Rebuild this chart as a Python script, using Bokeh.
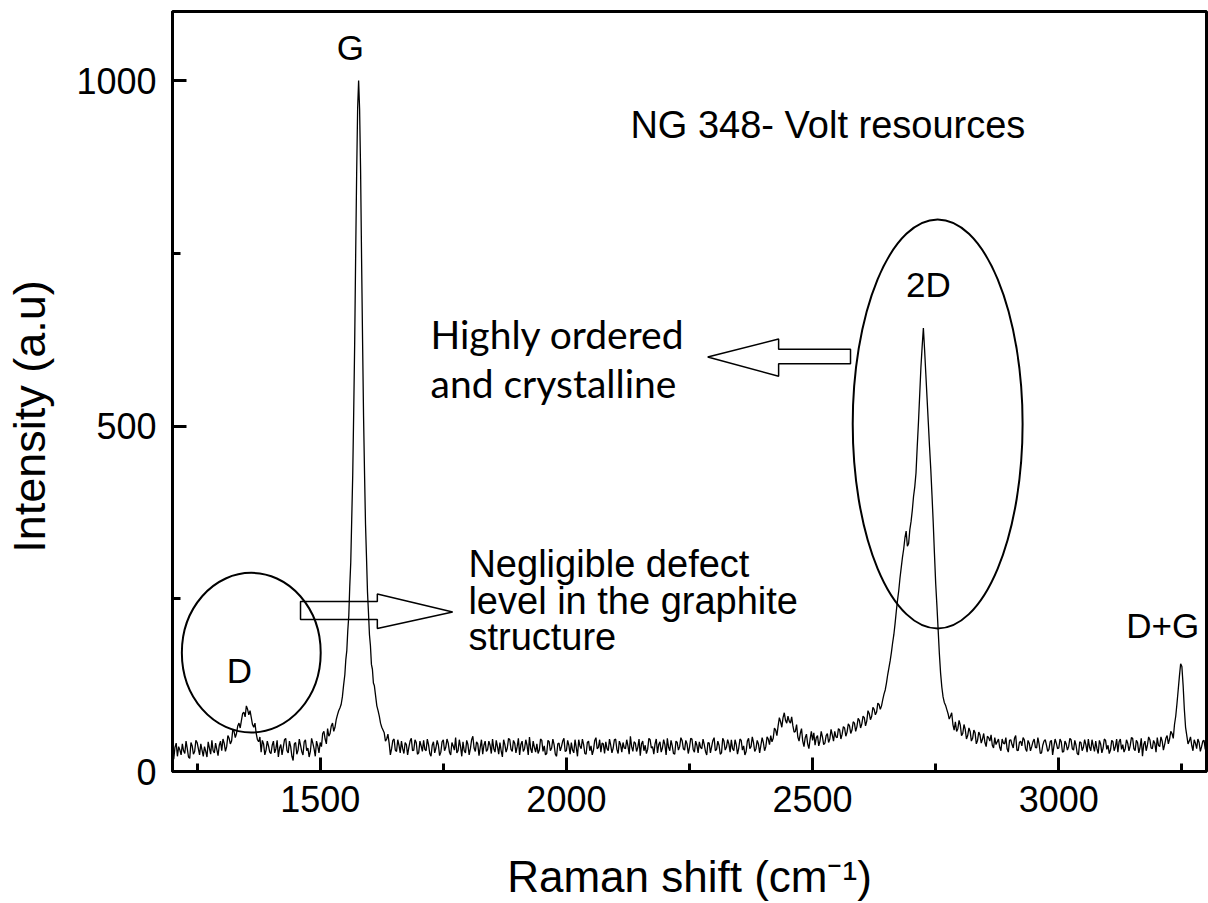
from bokeh.plotting import figure
from bokeh.models import Label, FixedTicker
from bokeh.embed import file_html
from bokeh.resources import INLINE

# ---- data ----
shift_a = [1200 + 5 * k for k in range(70)]
intensity_a = [
    28, 35, 22, 31, 40, 26, 33, 19, 37, 29, 42, 24, 31, 36, 21, 34, 45, 27, 32, 38,
    30, 41, 36, 48, 44, 58, 55, 70, 74, 86, 95, 82, 78, 64, 55, 43, 28, 40, 31, 37,
    26, 44, 33, 21, 39, 35, 48, 27, 36, 16, 42, 31, 38, 24, 46, 34, 29, 41, 22, 37,
    42, 55, 47, 62, 55, 70, 64, 82, 92, 108,
]
shift_a_mid = [1202.5 + 5 * k for k in range(70)]
intensity_a_mid = [
    18, 41, 36, 24, 30, 44, 21, 42, 25, 45, 33, 40, 22, 29, 43, 25, 30, 41, 23, 44,
    47, 29, 52, 40, 61, 49, 66, 63, 84, 79, 90, 88, 68, 70, 46, 50, 45, 24, 44, 28,
    38, 27, 45, 34, 24, 46, 30, 44, 22, 40, 25, 47, 29, 43, 30, 21, 48, 33, 44, 27,
    36, 58, 40, 51, 66, 58, 75, 88, 97, 125,
]
shift_b = [1550 + 2 * k for k in range(31)]
intensity_b = [
    140, 162, 175, 204, 225, 268, 302, 365, 428, 520, 620, 748, 865, 960, 1000,
    958, 870, 742, 625, 515, 432, 358, 310, 260, 230, 198, 182, 155, 148, 128, 124,
]
shift_c = [1615 + 5 * k for k in range(338)]
intensity_c = [
    95, 80, 64, 56, 47,
    41, 33, 47, 29, 38, 44, 26, 39, 35, 48,
    31, 42, 27, 37, 45, 30, 39, 22, 43, 34,
    38, 28, 46, 35, 41, 24, 37, 49, 30, 36,
    43, 27, 39, 33, 51, 29, 40, 35, 25, 44,
    32, 38, 47, 28, 36, 42, 21, 39, 34, 46,
    29, 41, 36, 24, 44, 33, 38, 50, 27, 35,
    40, 31, 45, 37, 26, 43, 34, 39, 22, 41,
    36, 48, 30, 38, 42, 27, 35, 46, 33, 39,
    25, 44, 37, 31, 49, 35, 28, 40, 43, 30,
    38, 34, 47, 26, 39, 42, 33, 37, 51, 29,
    41, 35, 23, 44, 38, 32, 46, 36, 40, 27,
    43, 34, 39, 48, 30, 37, 25, 42, 36, 45,
    31, 40, 35, 47, 28, 38, 43, 33, 39, 24,
    41, 36, 49, 32, 38, 27, 44, 35, 40, 46,
    30, 39, 34, 45, 37, 29, 48, 36, 42, 33,
    40, 38,
    42, 36, 47, 52, 48, 60, 66, 72, 78, 74, 80, 70, 66, 58, 50, 55, 44, 49, 40, 47,
    45, 38, 52, 44, 50, 41, 55, 47, 53, 58, 49, 60, 54, 63, 57, 66, 60, 70, 65, 74,
    69, 78, 73, 84, 80, 90, 86, 97,
    95, 112, 128, 150, 172, 198, 232, 262, 295, 322, 348, 330, 362, 398, 432, 505,
    585, 642, 575, 505, 438, 360, 272, 205, 142, 108, 96, 84, 80, 68, 72,
    62, 67, 55, 61, 52, 58, 48, 56, 45, 53,
    47, 42, 51, 44, 38, 49, 43, 35, 47, 40,
    33, 45, 39, 48, 31, 42, 37, 46, 29, 41,
    36, 47, 34, 40, 27, 44, 38, 32, 45, 36,
    41,
    34, 43, 29, 40, 36, 46, 31, 38, 24, 42,
    35, 39, 47, 30, 37, 44, 26, 40, 34, 45,
    38, 31, 43, 36, 28, 47, 39, 33, 41, 37,
    48, 30, 42, 35, 22, 44, 38, 46, 33, 41,
    49, 36, 44, 39, 52, 47,
    55, 68, 98, 138, 152, 90, 52, 44, 38, 46, 33, 42, 36, 45, 39,
]
shift_c_mid = [1617.5 + 5 * k for k in range(337)]
intensity_c_mid = [
    88, 70, 60, 44, 54,
    24, 45, 31, 46, 27, 33, 42, 24, 44, 30,
    46, 25, 44, 29, 32, 47, 26, 38, 27, 45,
    23, 43, 30, 47, 28, 42, 31, 27, 46, 22,
    30, 45, 24, 46, 34, 43, 23, 46, 38, 29,
    44, 26, 33, 45, 25, 30, 46, 28, 48, 32,
    45, 27, 48, 39, 29, 46, 24, 33, 44, 28,
    26, 47, 29, 24, 45, 30, 47, 25, 40, 30,
    44, 29, 45, 25, 31, 46, 22, 37, 47, 26,
    42, 30, 24, 45, 33, 46, 41, 26, 33, 47,
    27, 46, 32, 44, 28, 34, 46, 25, 36, 43,
    29, 47, 40, 30, 26, 48, 34, 25, 47, 39,
    28, 46, 24, 35, 45, 26, 44, 31, 49, 33,
    45, 26, 48, 32, 44, 27, 35, 47, 29, 42,
    27, 45, 30, 44, 25, 48, 31, 46, 28, 33,
    46, 25, 47, 31, 24, 44, 33, 50, 29, 45,
    27, 49,
    30, 50, 39, 43, 63, 52, 78, 64, 85, 70, 73, 79, 57, 68, 44, 62, 36, 54, 33, 58,
    56, 49, 37, 58, 39, 52, 42, 61, 44, 50, 62, 47, 65, 51, 69, 55, 72, 58, 77, 63,
    80, 66, 88, 75, 93, 82, 99, 90,
    104, 118, 140, 160, 186, 214, 248, 280, 310, 338, 326, 350, 378, 412, 470, 545,
    615, 610, 540, 470, 400, 315, 240, 170, 122, 100, 90, 76, 85, 60, 58,
    74, 52, 68, 47, 63, 44, 60, 40, 57, 41,
    55, 36, 49, 53, 34, 39, 47, 30, 41, 49,
    28, 46, 34, 52, 30, 44, 49, 33, 45, 30,
    43, 35, 49, 26, 38, 46, 29, 43, 24, 47,
    33,
    47, 28, 44, 31, 48, 33, 45, 26, 43, 30,
    46, 28, 35, 46, 29, 33, 45, 27, 47, 32,
    26, 45, 30, 47, 43, 32, 28, 46, 30, 49,
    33, 45, 27, 48, 39, 30, 50, 34, 45, 28,
    38, 50, 31, 48, 40, 58,
    48, 80, 118, 156, 125, 64, 40, 50, 30, 41, 47, 29, 44, 32,
]

assert len(shift_a) == len(intensity_a) and len(shift_a_mid) == len(intensity_a_mid)
assert len(shift_b) == len(intensity_b)
assert len(shift_c) == len(intensity_c) and len(shift_c_mid) == len(intensity_c_mid)

points = sorted(zip(shift_a + shift_a_mid + shift_b + shift_c + shift_c_mid,
                    intensity_a + intensity_a_mid + intensity_b + intensity_c + intensity_c_mid))
raman_shift = [pt[0] for pt in points]
intensity = [pt[1] for pt in points]

x_major_ticks = [1500, 2000, 2500, 3000]
x_minor_ticks = [1250, 1750, 2250, 2750, 3250]
y_major_ticks = [0, 500, 1000]
y_minor_ticks = [250, 750]

FONT = "Liberation Sans"

p = figure(width=1208, height=903, x_range=(1200, 3300), y_range=(0, 1100),
           output_backend="svg", toolbar_location=None,
           min_border_left=172, min_border_right=2, min_border_top=11, min_border_bottom=132)
p.background_fill_color = "white"
p.border_fill_color = "white"
p.xgrid.visible = False
p.ygrid.visible = False
p.outline_line_color = "black"
p.outline_line_width = 3
p.outline_line_alpha = 1.0

p.xaxis.ticker = FixedTicker(ticks=x_major_ticks, minor_ticks=x_minor_ticks)
p.yaxis.ticker = FixedTicker(ticks=y_major_ticks, minor_ticks=y_minor_ticks)
for ax in (p.xaxis[0], p.yaxis[0]):
    ax.axis_line_width = 3
    ax.axis_line_color = "black"
    ax.major_tick_in = 14
    ax.major_tick_out = 0
    ax.minor_tick_in = 8
    ax.minor_tick_out = 0
    ax.major_tick_line_width = 3
    ax.minor_tick_line_width = 3
    ax.major_tick_line_color = "black"
    ax.minor_tick_line_color = "black"
    ax.major_label_text_font = FONT
    ax.major_label_text_font_size = "36px"
    ax.major_label_text_color = "black"
    ax.axis_label_text_font = FONT
    ax.axis_label_text_font_style = "normal"
    ax.axis_label_text_color = "black"

p.xaxis.axis_label = "Raman shift (cm\u207b\u00b9)"
p.xaxis.axis_label_text_font_size = "44px"
p.xaxis.major_label_standoff = 14
p.xaxis.axis_label_standoff = 37
# trailing no-break spaces nudge the vertical title toward the lower part of the axis
p.yaxis.axis_label = "Intensity (a.u)\u00a0\u00a0\u00a0\u00a0"
p.yaxis.axis_label_text_font_size = "45px"
p.yaxis.major_label_standoff = 16
p.yaxis.axis_label_standoff = 18

# spectrum
p.line(raman_shift, intensity, line_color="black", line_width=1.3)

# ellipses around D and 2D bands
p.ellipse(x=[1360], y=[172], width=[282], height=[231],
          fill_color=None, line_color="black", line_width=2)
p.ellipse(x=[2754], y=[503], width=[345], height=[592],
          fill_color=None, line_color="black", line_width=2)

# block arrows (outline only)
p.patch([1460, 1616, 1616, 1769, 1616, 1616, 1460],
        [246, 246, 257, 231, 207, 220, 220],
        fill_color=None, line_color="black", line_width=1.5)
p.patch([2577, 2431, 2431, 2287, 2431, 2431, 2577],
        [611, 611, 626, 600, 572, 590, 590],
        fill_color=None, line_color="black", line_width=1.5)

def add_text(x, y, text, size="35px", align="center", font=FONT):
    p.add_layout(Label(x=x, y=y, text=text, text_font=font, text_font_size=size,
                       text_align=align, text_baseline="middle", text_color="black"))

add_text(1561, 1048, "G")
add_text(2735, 705, "2D")
add_text(3211, 211, "D+G")
add_text(1336, 146, "D")
add_text(2130, 936, "NG 348- Volt resources", size="38px", align="left")
add_text(1724, 633, "Highly ordered", size="39px", align="left", font="Lato")
add_text(1724, 562, "and crystalline", size="39px", align="left", font="Lato")
add_text(1801, 301, "Negligible defect", size="38px", align="left")
add_text(1801, 247, "level in the graphite", size="38px", align="left")
add_text(1801, 194, "structure", size="38px", align="left")

open("out.html", "w").write(file_html(p, INLINE))
